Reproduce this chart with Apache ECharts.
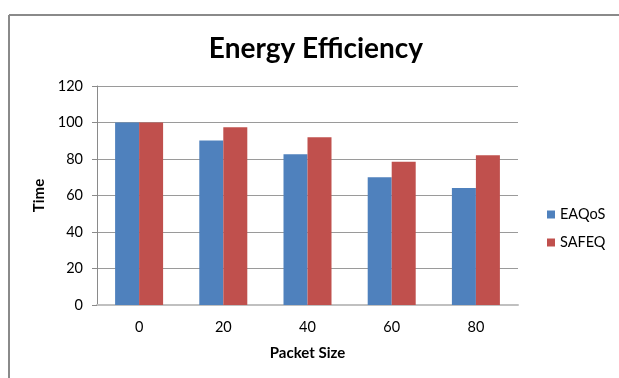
<!DOCTYPE html>
<html>
<head>
<meta charset="utf-8">
<script src="https://cdn.jsdelivr.net/npm/echarts@6/dist/echarts.min.js"></script>
<style>
html,body{margin:0;padding:0;background:#fff;}
#chart{width:619px;height:378px;}
</style>
</head>
<body>
<div id="chart"></div>
<script>
var categories = ['0', '20', '40', '60', '80'];
var eaqos = [100, 90.2, 82.6, 70.0, 64.1];
var safeq = [100, 97.4, 91.9, 78.5, 82.0];
var seriesNames = ['EAQoS', 'SAFEQ'];

var FONT = 'Lato';
var chart = echarts.init(document.getElementById('chart'), null, {renderer: 'canvas'});
chart.setOption({
  backgroundColor: '#ffffff',
  animation: false,
  title: {
    text: 'Energy Efficiency',
    left: 311, textAlign: 'center',
    top: 30,
    textStyle: {fontFamily: FONT, fontWeight: 'bold', fontSize: 28, color: '#000'}
  },
  graphic: [
    {type: 'line', shape: {x1: 9, y1: 15, x2: 619, y2: 15}, style: {stroke: '#8a8a8a', lineWidth: 2}},
    {type: 'line', shape: {x1: 9, y1: 15, x2: 9, y2: 378}, style: {stroke: '#8a8a8a', lineWidth: 2}}
  ],
  legend: {
    orient: 'vertical',
    left: 542, top: 202,
    itemWidth: 8, itemHeight: 8, itemGap: 13,
    icon: 'rect',
    textStyle: {fontFamily: FONT, fontSize: 14.5, color: '#000'},
    data: seriesNames
  },
  grid: {left: 97, right: 101, top: 86, bottom: 73},
  xAxis: {
    type: 'category',
    data: categories,
    name: 'Packet Size',
    nameLocation: 'middle',
    nameGap: 41,
    nameTextStyle: {fontFamily: FONT, fontWeight: 'bold', fontSize: 15, color: '#000'},
    axisLine: {lineStyle: {color: '#c0c0c0', width: 2}},
    axisTick: {show: false},
    axisLabel: {fontFamily: FONT, fontSize: 14.5, color: '#000', margin: 15}
  },
  yAxis: {
    type: 'value',
    min: 0, max: 120, interval: 20,
    name: 'Time',
    nameLocation: 'middle',
    nameRotate: 90,
    nameGap: 50,
    nameTextStyle: {fontFamily: FONT, fontWeight: 'bold', fontSize: 15, color: '#000'},
    axisLine: {show: true, lineStyle: {color: '#8a8a8a', width: 1}},
    axisTick: {show: true, length: 5, lineStyle: {color: '#8a8a8a'}},
    axisLabel: {fontFamily: FONT, fontSize: 14.5, color: '#000', margin: 14},
    splitLine: {lineStyle: {color: '#9a9a9a', width: 1}}
  },
  series: [
    {name: seriesNames[0], type: 'bar', data: eaqos, barWidth: 24, barGap: '0%',
     itemStyle: {color: '#4F81BD'}},
    {name: seriesNames[1], type: 'bar', data: safeq, barWidth: 24, barGap: '0%',
     itemStyle: {color: '#C0504D'}}
  ]
});
</script>
</body>
</html>
